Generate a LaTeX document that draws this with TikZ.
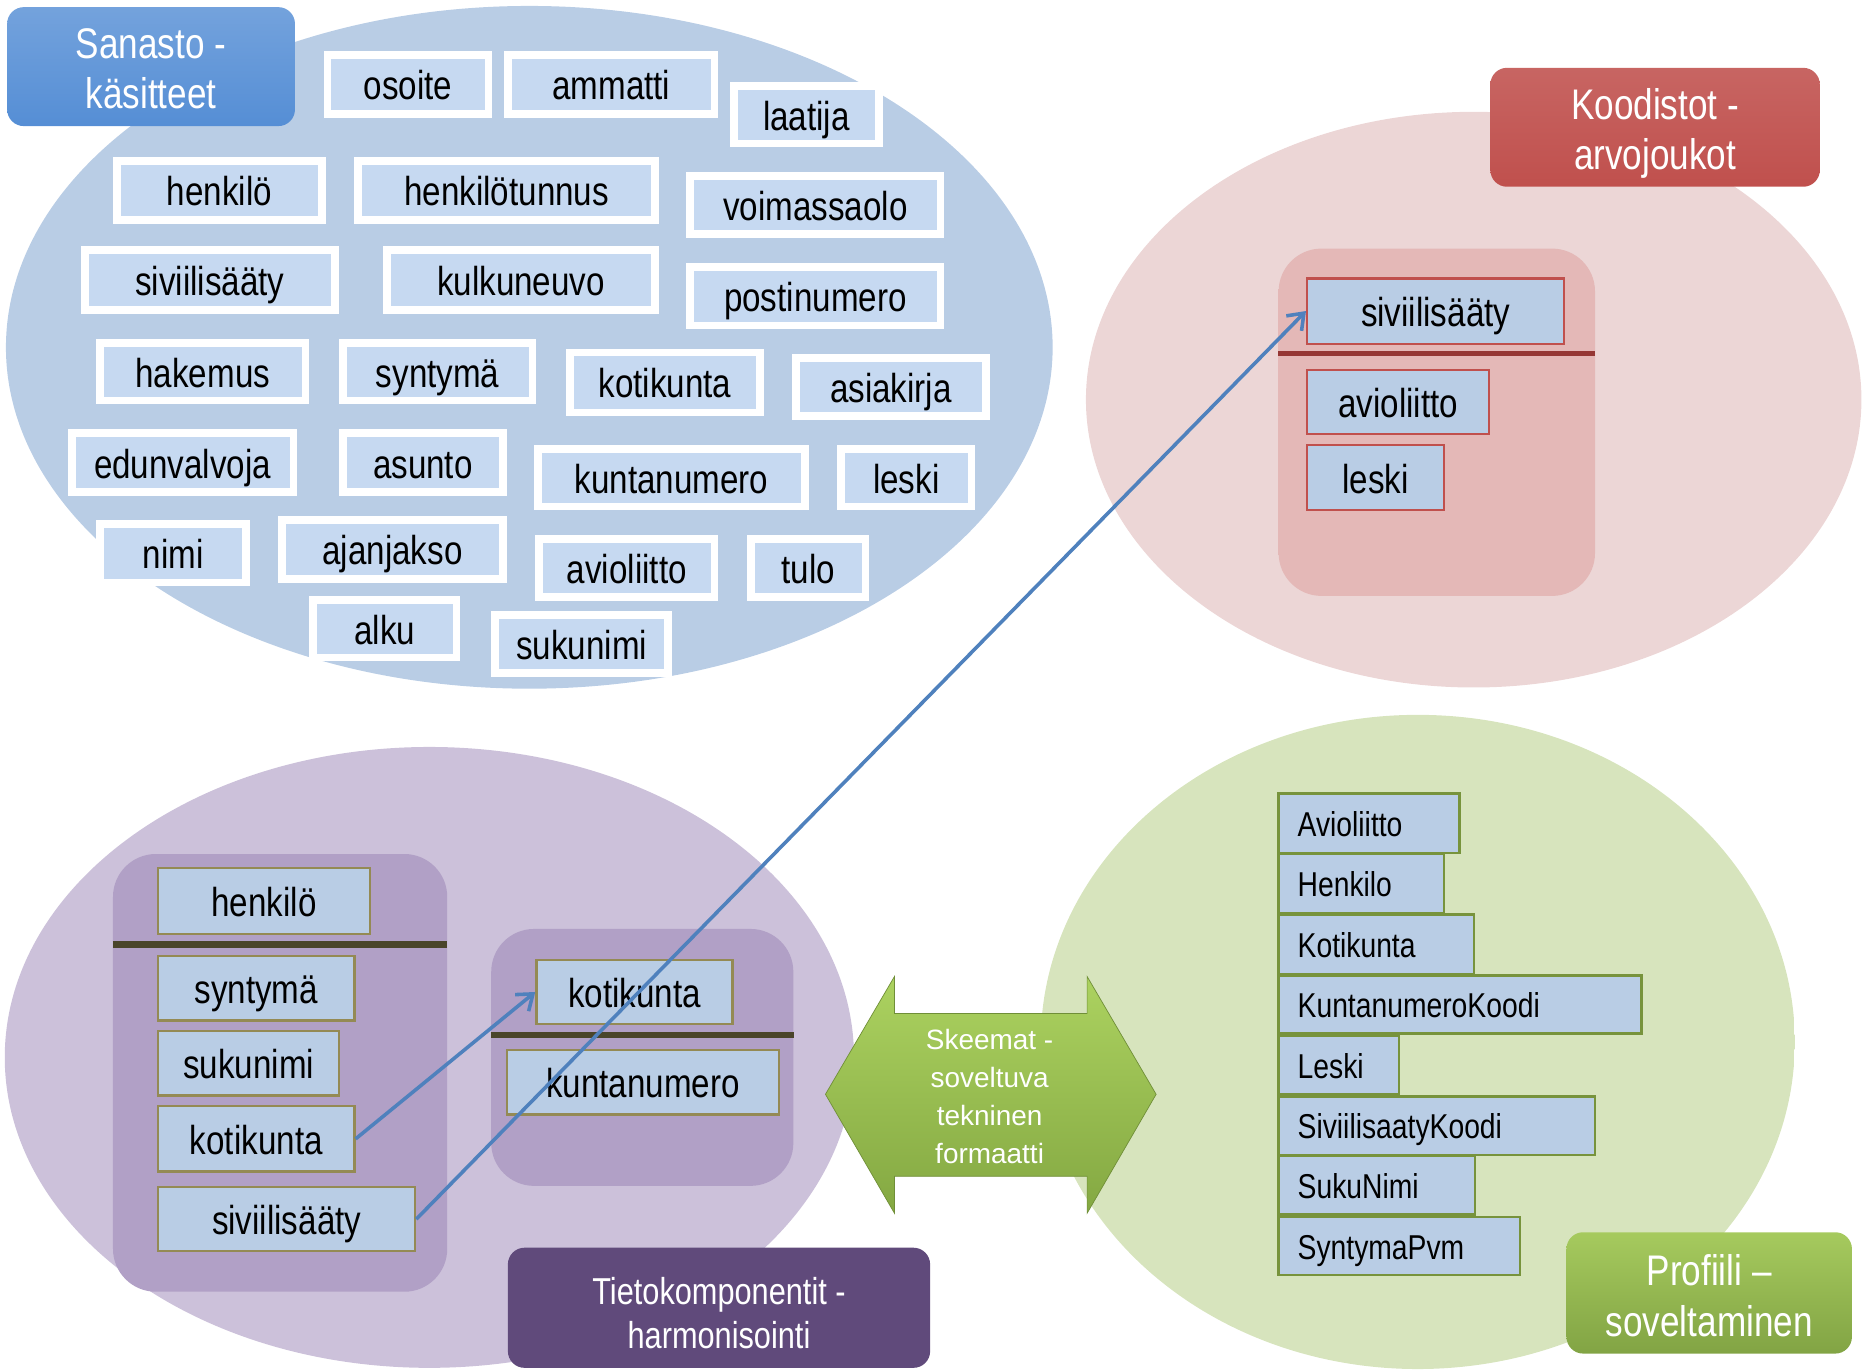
\documentclass[tikz,border=0pt]{standalone}
\usepackage{fontspec}
\setmainfont{Liberation Sans}[FakeStretch=0.82]
\newfontfamily\plainsans{Liberation Sans}
\usetikzlibrary{arrows.meta}

\definecolor{ellBlue}{RGB}{185,205,229}
\definecolor{ellBlueRim}{RGB}{230,238,248}
\definecolor{wordFill}{RGB}{198,217,241}
\definecolor{boxFill}{RGB}{185,205,229}
\definecolor{ellPink}{RGB}{236,214,214}
\definecolor{ellPinkRim}{RGB}{250,240,240}
\definecolor{contPink}{RGB}{228,184,183}
\definecolor{contPinkTop}{RGB}{246,214,213}
\definecolor{divRed}{RGB}{149,55,53}
\definecolor{brdRed}{RGB}{192,80,77}
\definecolor{labRed}{RGB}{192,80,77}
\definecolor{ellPurple}{RGB}{204,193,218}
\definecolor{ellPurpleRim}{RGB}{232,226,240}
\definecolor{contPurple}{RGB}{177,160,198}
\definecolor{contPurpleTop}{RGB}{208,195,228}
\definecolor{divBrown}{RGB}{74,69,42}
\definecolor{brdOlive}{RGB}{148,138,84}
\definecolor{labPurple}{RGB}{96,74,123}
\definecolor{ellGreen}{RGB}{215,228,189}
\definecolor{ellGreenRim}{RGB}{238,245,228}
\definecolor{brdGreen}{RGB}{119,147,60}
\definecolor{labGreenTop}{RGB}{166,202,94}
\definecolor{labGreenBot}{RGB}{130,164,68}
\definecolor{arrGreenTop}{RGB}{172,210,96}
\definecolor{arrGreenBot}{RGB}{132,168,66}
\definecolor{labBlue}{RGB}{85,142,213}
\definecolor{arrowBlue}{RGB}{79,129,189}

\pgfdeclareradialshading{rimBlue}{\pgfpoint{0bp}{0bp}}{color(0bp)=(ellBlue); color(43bp)=(ellBlue); color(50bp)=(ellBlueRim); color(72bp)=(ellBlueRim)}
\pgfdeclareradialshading{rimPink}{\pgfpoint{0bp}{0bp}}{color(0bp)=(ellPink); color(43bp)=(ellPink); color(50bp)=(ellPinkRim); color(72bp)=(ellPinkRim)}
\pgfdeclareradialshading{rimPurple}{\pgfpoint{0bp}{0bp}}{color(0bp)=(ellPurple); color(43bp)=(ellPurple); color(50bp)=(ellPurpleRim); color(72bp)=(ellPurpleRim)}
\pgfdeclareradialshading{rimGreen}{\pgfpoint{0bp}{0bp}}{color(0bp)=(ellGreen); color(43bp)=(ellGreen); color(50bp)=(ellGreenRim); color(72bp)=(ellGreenRim)}
\pgfdeclareverticalshading{contPinkSh}{100bp}{color(0bp)=(contPink); color(75bp)=(contPink); color(100bp)=(contPinkTop)}
\pgfdeclareverticalshading{contPurpleSh}{100bp}{color(0bp)=(contPurple); color(75bp)=(contPurple); color(100bp)=(contPurpleTop)}

% generic box: style, name, x1, y1, x2, y2, text
\newcommand\wb[7]{%
  \pgfmathsetmacro\mybw{#5-#3}\pgfmathsetmacro\mybh{#6-#4}%
  \pgfmathsetmacro\mybx{(#3+#5)/2}\pgfmathsetmacro\myby{(#4+#6)/2}%
  \node[#1, minimum width=\mybw pt, minimum height=\mybh pt] (#2) at (\mybx,\myby) {#7};}
% white-framed word: name, x1, y1, x2, y2, text (outer edge)
\newcommand\ob[6]{%
  \pgfmathsetmacro\mybw{#4-#2-6.5}\pgfmathsetmacro\mybh{#5-#3-6.5}%
  \pgfmathsetmacro\mybx{(#2+#4)/2}\pgfmathsetmacro\myby{(#3+#5)/2}%
  \node[word, minimum width=\mybw pt, minimum height=\mybh pt] (#1) at (\mybx,\myby) {#6};}
% left aligned green-framed box
\newcommand\gb[6]{%
  \pgfmathsetmacro\mybw{#4-#2-32}\pgfmathsetmacro\mybh{#5-#3}%
  \pgfmathsetmacro\mybx{(#2+#4)/2}\pgfmathsetmacro\myby{(#3+#5)/2}%
  \node[gword, text width=\mybw pt, minimum height=\mybh pt] (#1) at (\mybx,\myby) {#6};}

\begin{document}
\begin{tikzpicture}[x=1pt,y=-1pt,
  word/.style={draw=white, line width=6.5pt, fill=wordFill, inner sep=0pt,
    text height=33pt, text depth=7pt, font=\fontsize{34}{40}\selectfont},
  pword/.style={draw=brdRed, line width=2pt, fill=boxFill, inner sep=0pt,
    text height=33pt, text depth=7pt, font=\fontsize{34}{40}\selectfont},
  uword/.style={pword, draw=brdOlive},
  gword/.style={draw=brdGreen, line width=2pt, fill=boxFill, inner xsep=16pt,
    inner ysep=0pt, align=left, text height=27pt, text depth=5pt,
    font=\fontsize{29}{34}\selectfont},
  cont/.style={rounded corners=36pt, inner sep=0pt},
  lab/.style={rounded corners=14pt, inner sep=0pt, text=white, align=center},
  conn/.style={draw=arrowBlue, line width=3pt,
    -{Straight Barb[length=12pt,width=18pt]}}]
\useasboundingbox (0,0) rectangle (1568,1152);

% ---- ellipses
\shade[shading=rimBlue] (445,292) ellipse [x radius=440pt, y radius=287pt];
\shade[shading=rimPink] (1239,336) ellipse [x radius=326pt, y radius=242pt];
\shade[shading=rimPurple] (361,889) ellipse [x radius=357pt, y radius=261pt];
\shade[shading=rimGreen] (1192,876) ellipse [x radius=317pt, y radius=275pt];

% ---- Sanasto words
\ob{osoite}{272}{43}{414}{99}{osoite}
\ob{ammatti}{424}{43}{604}{99}{ammatti}
\ob{laatija}{614}{69}{742}{124}{laatija}
\ob{henkilo}{95}{132}{274}{188}{henkilö}
\ob{hetu}{298}{132}{554}{188}{henkilötunnus}
\ob{voimassa}{577}{145}{794}{200}{voimassaolo}
\ob{sivS}{68}{207}{285}{264}{siviilisääty}
\ob{kulku}{322}{207}{554}{264}{kulkuneuvo}
\ob{posti}{577}{221}{794}{277}{postinumero}
\ob{hakemus}{81}{285}{260}{340}{hakemus}
\ob{syntS}{285}{285}{451}{340}{syntymä}
\ob{kotiS}{476}{293}{642}{350}{kotikunta}
\ob{asiakirja}{666}{298}{832}{353}{asiakirja}
\ob{edunv}{57}{361}{250}{417}{edunvalvoja}
\ob{asunto}{285}{361}{426}{417}{asunto}
\ob{kuntaS}{449}{374}{680}{429}{kuntanumero}
\ob{leskiS}{704}{374}{820}{429}{leski}
\ob{nimi}{81}{437}{210}{493}{nimi}
\ob{ajanjakso}{234}{434}{426}{490}{ajanjakso}
\ob{avioS}{450}{450}{604}{505}{avioliitto}
\ob{tulo}{628}{450}{731}{505}{tulo}
\ob{alku}{260}{501}{387}{556}{alku}
\ob{sukuS}{413}{514}{565}{569}{sukunimi}

% ---- labels
\wb{lab, top color=labBlue!82!white, bottom color=labBlue, font=\fontsize{36}{42}\selectfont}{sanasto}{6}{6}{248}{106}{\rule{0pt}{29pt}Sanasto -\\käsitteet}
\wb{lab, top color=labRed!88!white, bottom color=labRed, text depth=0pt, font=\fontsize{36}{42}\selectfont}{koodistot}{1253}{57}{1530}{157}{\rule{0pt}{29pt}Koodistot -\\arvojoukot}
\wb{lab, fill=labPurple, font=\fontsize{31.5}{37}\selectfont}{tieto}{427}{1049}{782}{1150}{\rule{0pt}{31pt}Tietokomponentit -\\harmonisointi}
\wb{lab, top color=labGreenTop, bottom color=labGreenBot, font=\fontsize{36}{43}\selectfont}{profiili}{1317}{1036}{1557}{1138}{\rule{0pt}{30.5pt}Profiili –\\soveltaminen}

% ---- Koodistot container
\wb{cont, shade, shading=contPinkSh}{contK}{1075}{209}{1341}{501}{}
\coordinate (dK) at (0,297.5);
\draw[divRed, line width=4pt] (contK.west |- dK) -- (contK.east |- dK);
\wb{pword}{sivK}{1099}{234}{1315}{289}{siviilisääty}
\wb{pword}{avioK}{1099}{311}{1252}{365}{avioliitto}
\wb{pword}{leskiK}{1099}{374}{1214}{429}{leski}

% ---- Tietokomponentit containers
\wb{cont, shade, shading=contPurpleSh}{contL}{95}{718}{376}{1086}{}
\coordinate (dL) at (0,794);
\draw[divBrown, line width=5.5pt] (contL.west |- dL) -- (contL.east |- dL);
\wb{uword}{henkP}{133}{730}{311}{785}{henkilö}
\wb{uword}{syntP}{133}{804}{298}{858}{syntymä}
\wb{uword}{sukuP}{133}{867}{285}{921}{sukunimi}
\wb{uword}{kotiP}{133}{930}{298}{985}{kotikunta}
\wb{uword}{siviP}{133}{998}{349}{1052}{siviilisääty}

\wb{cont, shade, shading=contPurpleSh}{contR}{413}{781}{667}{997}{}
\coordinate (dR) at (0,870);
\draw[divBrown, line width=5.5pt] (contR.west |- dR) -- (contR.east |- dR);
\wb{uword}{kotiR}{451}{807}{616}{861}{kotikunta}
\wb{uword}{kuntaR}{426}{883}{655}{937}{kuntanumero}

% ---- Profiili boxes
\gb{g1}{1075}{667}{1227}{717}{Avioliitto}
\gb{g2}{1075}{718}{1214}{768}{Henkilo}
\gb{g3}{1075}{769}{1239}{819}{Kotikunta}
\gb{g4}{1075}{820}{1380}{869}{KuntanumeroKoodi}
\gb{g5}{1075}{871}{1176}{920}{Leski}
\gb{g6}{1075}{922}{1341}{971}{SiviilisaatyKoodi}
\gb{g7}{1075}{972}{1240}{1021}{SukuNimi}
\gb{g8}{1075}{1023}{1278}{1072}{SyntymaPvm}

% ---- green double arrow
\path[top color=arrGreenTop, bottom color=arrGreenBot, draw=arrGreenBot!85!black, line width=0.6pt]
  (694,920) -- (752,821) -- (752,852) -- (914,852) -- (914,821) -- (972,920)
  -- (914,1020) -- (914,989) -- (752,989) -- (752,1020) -- cycle;
\node[font=\plainsans\fontsize{23.5}{32}\selectfont, text=white, align=center]
  (skeema) at (832,922) {Skeemat -\\soveltuva\\tekninen\\formaatti};

% ---- connectors
\draw[conn] (kotiP.east) -- (kotiR.west);
\draw[conn] (siviP.east) -- (sivK.west);
\end{tikzpicture}
\end{document}
